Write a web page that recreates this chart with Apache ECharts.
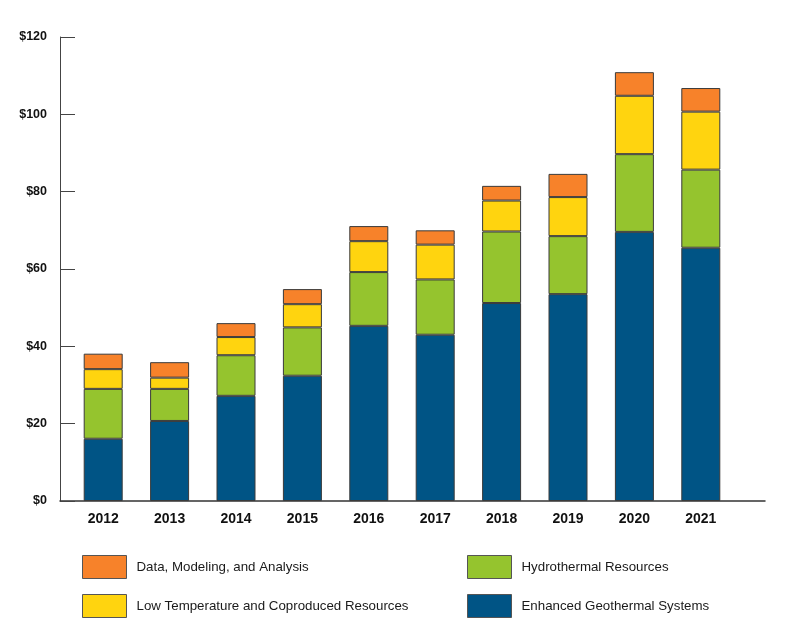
<!DOCTYPE html>
<html>
<head>
<meta charset="utf-8">
<script src="https://cdn.jsdelivr.net/npm/echarts@6/dist/echarts.min.js"></script>
<style>html,body{margin:0;padding:0;background:#fff;}#c{width:800px;height:639px;}</style>
</head>
<body>
<div id="c"></div>
<script>
const years = ['2012','2013','2014','2015','2016','2017','2018','2019','2020','2021'];
const enhancedGeothermal = [16.1, 20.7, 27.2, 32.4, 45.3, 43.0, 51.2, 53.5, 69.6, 65.5];
const hydrothermal = [12.9, 8.3, 10.5, 12.5, 13.9, 14.3, 18.5, 15.0, 20.1, 20.2];
const lowTemperature = [5.1, 2.9, 4.7, 6.0, 8.0, 9.0, 8.0, 10.1, 15.1, 15.0];
const dataModeling = [4.0, 4.0, 3.6, 3.9, 3.9, 3.7, 3.8, 6.0, 6.1, 6.1];
const yTicks = [0, 20, 40, 60, 80, 100, 120];

const names = {
  dm: 'Data, Modeling, and Analysis',
  lt: 'Low Temperature and Coproduced Resources',
  hy: 'Hydrothermal Resources',
  eg: 'Enhanced Geothermal Systems'
};
const colors = { dm: '#F7822A', lt: '#FFD40F', hy: '#95C42E', eg: '#005485' };

const chart = echarts.init(document.getElementById('c'));
const border = { borderColor: '#3a3a3a', borderWidth: 1 };
function mkSeries(key, data) {
  return {
    name: names[key], type: 'bar', stack: 'total', data: data,
    xAxisIndex: 0, yAxisIndex: 0, barWidth: 39,
    itemStyle: Object.assign({ color: colors[key] }, border),
    emphasis: { disabled: true }
  };
}
function mkLegend(key, left, top) {
  return {
    data: [names[key]], left: left, top: top, orient: 'horizontal', padding: 0,
    itemWidth: 44, itemHeight: 23, icon: 'rect', selectedMode: false,
    itemStyle: { color: colors[key], borderColor: '#555', borderWidth: 1 },
    textStyle: { fontFamily: 'Liberation Sans', fontSize: 13.3, color: '#1a1a1a', padding: [0, 0, 0, 5] }
  };
}
chart.setOption({
  animation: false,
  backgroundColor: '#fff',
  grid: [
    { left: 70, right: 66, top: 37, bottom: 138 },
    { left: 60, right: 35, top: 37, bottom: 138 }
  ],
  xAxis: [
    {
      type: 'category', data: years, gridIndex: 0,
      axisLine: { show: false }, axisTick: { show: false },
      axisLabel: { margin: 11, fontFamily: 'Liberation Sans', fontWeight: 'bold', fontSize: 14, color: '#111' }
    },
    {
      type: 'category', data: years, gridIndex: 1,
      axisLine: { show: true, lineStyle: { color: '#333', width: 1.5 } },
      axisTick: { show: false }, axisLabel: { show: false }
    }
  ],
  yAxis: [
    {
      type: 'value', gridIndex: 0, min: 0, max: 120, interval: 20, offset: 10,
      axisLine: { show: true, lineStyle: { color: '#444', width: 1 } },
      axisTick: { show: true, inside: true, length: 15, lineStyle: { color: '#444', width: 1 } },
      splitLine: { show: false },
      axisLabel: {
        margin: 13, fontFamily: 'Liberation Sans', fontWeight: 'bold', fontSize: 12.5, color: '#111',
        formatter: function (v) { return yTicks.indexOf(v) >= 0 ? '$' + v : ''; }
      }
    },
    { type: 'value', gridIndex: 1, min: 0, max: 120, show: false }
  ],
  legend: [
    mkLegend('dm', 82, 555),
    mkLegend('lt', 82, 594),
    mkLegend('hy', 467, 555),
    mkLegend('eg', 467, 594)
  ],
  series: [
    mkSeries('eg', enhancedGeothermal),
    mkSeries('hy', hydrothermal),
    mkSeries('lt', lowTemperature),
    mkSeries('dm', dataModeling)
  ]
});
</script>
</body>
</html>
